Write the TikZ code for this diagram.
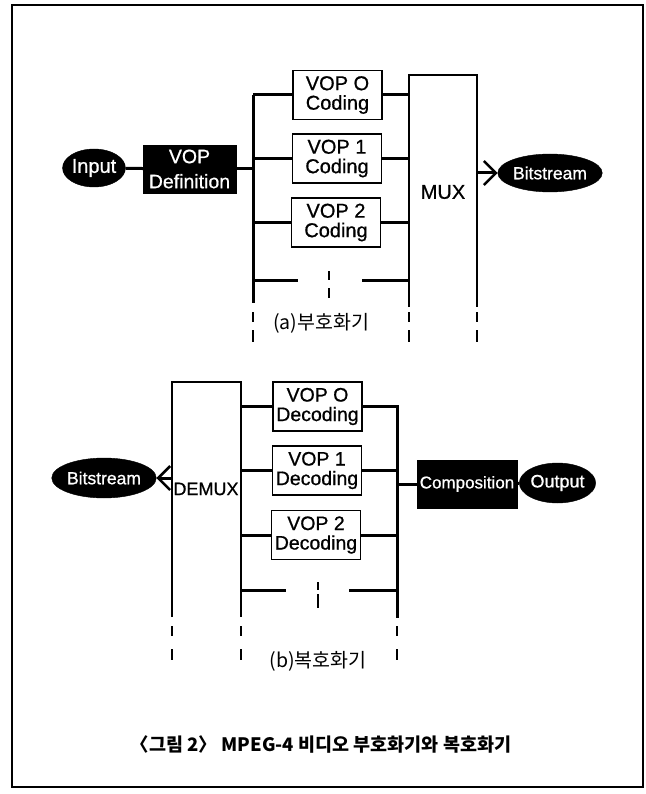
\documentclass[tikz,border=0pt]{standalone}
\usepackage{fontspec}
\setmainfont{Liberation Sans}[FakeBold=0.8]
\newfontfamily\kr{Noto Sans CJK KR}
\usetikzlibrary{shapes.geometric,arrows.meta}
\tikzset{
  vop/.style={draw, line width=1.5pt, minimum width=89pt, minimum height=49pt, inner sep=0pt, align=center, font=\fontsize{20}{19.5}\selectfont},
  blk/.style={rectangle, fill=black, draw=black, text=white, inner sep=0pt, align=center},
  oval/.style={ellipse, fill=black, draw=black, text=white, inner sep=0pt},
  bus/.style={line width=3pt, line join=miter},
  frame/.style={line width=1.6pt, line join=miter},
  dsh/.style={line width=2.2pt},
  barb/.style={-{Straight Barb[length=12pt,width=24pt,line width=2.5pt]}},
  lab/.style={font=\kr\fontsize{19.5}{22}\selectfont},
}
\begin{document}
\begin{tikzpicture}[x=1pt,y=-1pt]
\useasboundingbox (0,0) rectangle (645,794);
\draw[line width=1.5pt] (12,5) rectangle (643,787);

% ---------- encoder ----------
\node[oval, minimum width=56pt, minimum height=38pt, font=\fontsize{20}{20}\selectfont] (in) at (94,168) {Input};
\node[blk, minimum width=93pt, minimum height=48pt, font=\fontsize{19.5}{25}\selectfont] (vd) at (189.5,169) {VOP\\Definition};
\coordinate (ab) at (253,0);
\coordinate (mx) at (409,0);
\coordinate (my) at (477,0);
\node[vop] (c0) at (337.5,95) {VOP O\\Coding};
\node[vop] (c1) at (337,158.5) {VOP 1\\Coding};
\node[vop] (c2) at (336,222.5) {VOP 2\\Coding};
\node[font=\fontsize{20}{20}\selectfont] (mux) at (443,192) {MUX};
\node[oval, minimum width=84pt, minimum height=38pt, font=\fontsize{17.5}{18}\selectfont] (bs1) at (550,173) {Bitstream};

\draw[bus] (in) -- (vd);
\draw[bus] (vd.east) -- (vd.east -| ab);
\draw[bus] (c0.west -| ab) -- (253,303);
\draw[bus] (c0.west) -- (c0.west -| ab);
\draw[bus] (c1.west) -- (c1.west -| ab);
\draw[bus] (c2.west) -- (c2.west -| ab);
\draw[frame] (409,307) -- (409,75) -- (477,75) -- (477,307);
\draw[bus] (c0.east) -- (c0.east -| mx);
\draw[bus] (c1.east) -- (c1.east -| mx);
\draw[bus] (c2.east) -- (c2.east -| mx);
\draw[bus, barb] (477,173) -- (bs1.west);
% dashed continuation
\draw[bus] (253,280) -- (298,280);
\draw[bus] (362,280) -- (409,280);
\draw[dsh] (329,271) -- (329,280) (329,288) -- (329,298);
\foreach \x in {253,409,477} {
  \draw[dsh] (\x,312) -- (\x,322) (\x,330) -- (\x,342);
}
\node[lab] (la) at (321,323) {(a)부호화기};

% ---------- decoder ----------
\node[oval, minimum width=85pt, minimum height=40pt, font=\fontsize{17.5}{18}\selectfont] (bs2) at (104,478) {Bitstream};
\coordinate (dl) at (172,0);
\coordinate (dr) at (241,0);
\coordinate (rb) at (397,0);
\draw[frame] (172,617) -- (172,382) -- (241,382) -- (241,617);
\node[font=\fontsize{18}{20}\selectfont] (demux) at (206,489) {DEMUX};
\node[vop, font=\fontsize{19.5}{19.5}\selectfont] (d0) at (317.5,406.5) {VOP O\\Decoding};
\node[vop, font=\fontsize{19.5}{19.5}\selectfont] (d1) at (317,470.5) {VOP 1\\Decoding};
\node[vop, font=\fontsize{19.5}{19.5}\selectfont] (d2) at (316,535) {VOP 2\\Decoding};
\node[blk, minimum width=100pt, minimum height=48pt, font=\fontsize{17}{18}\selectfont] (comp) at (467,484) {Composition};
\node[oval, minimum width=59pt, minimum height=40pt, font=\fontsize{18}{18}\selectfont] (out) at (557.5,483) {Output};

\draw[bus, barb] (172,478) -- (bs2.east);
\draw[bus] (d0.west -| dr) -- (d0.west);
\draw[bus] (d1.west -| dr) -- (d1.west);
\draw[bus] (d2.west -| dr) -- (d2.west);
\draw[bus] (d0.east) -- (d0.east -| rb) -- (397,618);
\draw[bus] (d1.east) -- (d1.east -| rb);
\draw[bus] (d2.east) -- (d2.east -| rb);
\draw[bus] (comp.west -| rb) -- (comp.west);
\draw[bus] (comp) -- (out);
% dashed continuation
\draw[bus] (241,590) -- (286,590);
\draw[bus] (349,590) -- (397,590);
\draw[dsh] (318,582) -- (318,590) (318,594) -- (318,608);
\foreach \x in {172,241,397} {
  \draw[dsh] (\x,626) -- (\x,636) (\x,649) -- (\x,660);
}
\node[lab] (lb) at (318,661) {(b)복호화기};

% caption
\node[font=\kr\bfseries\fontsize{18.5}{20}\selectfont] (cap) at (321,744) {〈그림 2〉 MPEG-4 비디오 부호화기와 복호화기};
\end{tikzpicture}
\end{document}
